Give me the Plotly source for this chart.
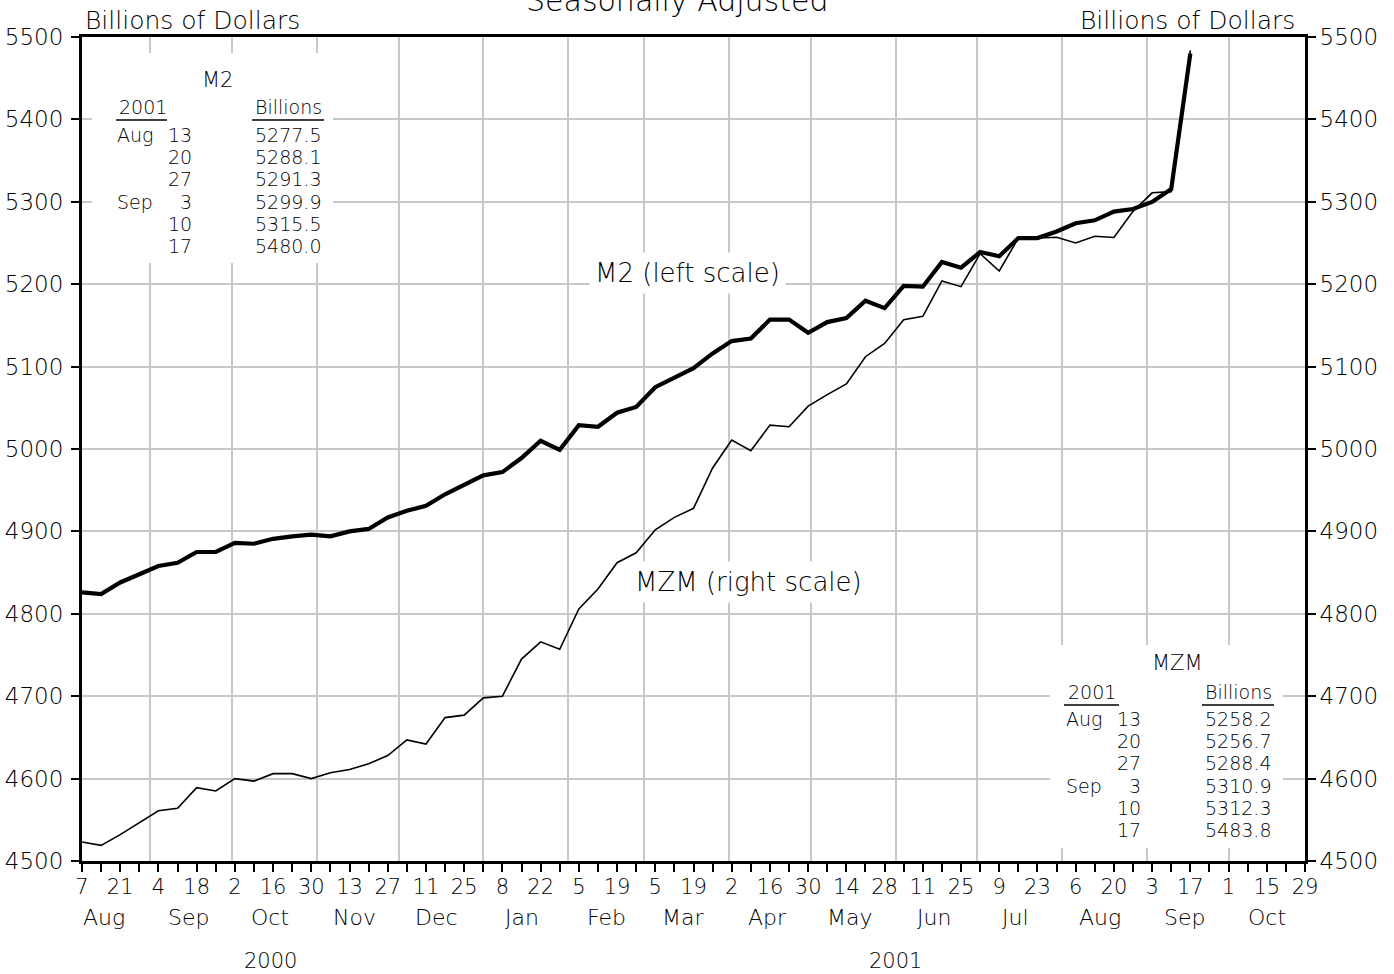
import pandas as pd
import plotly.graph_objects as go

# ---------------- data ----------------
week_start = "2000-08-07"
axis_start = "2000-08-07"
axis_end = "2001-10-29"

m2_values = [
    4826, 4824, 4838, 4848, 4858, 4862, 4875, 4875, 4886, 4885,
    4891, 4894, 4896, 4894, 4900, 4903, 4917, 4925, 4931, 4945,
    4956, 4968, 4972, 4989, 5010, 4999, 5029, 5027, 5044, 5051,
    5075, 5086, 5098, 5116, 5131, 5134, 5157, 5157, 5141, 5154,
    5159, 5180, 5171, 5198, 5197, 5227, 5220, 5239, 5234, 5256,
    5256, 5264, 5274, 5277.5, 5288.1, 5291.3, 5299.9, 5315.5, 5480.0,
]
mzm_values = [
    4523, 4519, 4532, 4547, 4561, 4564, 4589, 4585, 4600, 4597,
    4606, 4606, 4600, 4607, 4611, 4618, 4628, 4647, 4642, 4674,
    4677, 4698, 4700, 4745, 4766, 4757, 4806, 4830, 4862, 4874,
    4902, 4917, 4928, 4977, 5011, 4998, 5029, 5027, 5052, 5066,
    5079, 5112, 5128, 5157, 5161, 5204, 5197, 5237, 5216, 5256,
    5256, 5257, 5250, 5258.2, 5256.7, 5288.4, 5310.9, 5312.3, 5483.8,
]

day_labels = ["7", "21", "4", "18", "2", "16", "30", "13", "27", "11", "25",
              "8", "22", "5", "19", "5", "19", "2", "16", "30", "14", "28",
              "11", "25", "9", "23", "6", "20", "3", "17", "1", "15", "29"]
month_labels = ["Aug", "Sep", "Oct", "Nov", "Dec", "Jan", "Feb", "Mar",
                "Apr", "May", "Jun", "Jul", "Aug", "Sep", "Oct"]
month_label_dates = ["2000-08-15", "2000-09-15", "2000-10-15", "2000-11-15",
                     "2000-12-15", "2001-01-15", "2001-02-15", "2001-03-15",
                     "2001-04-15", "2001-05-15", "2001-06-15", "2001-07-15",
                     "2001-08-15", "2001-09-15", "2001-10-15"]
year_labels = ["2000", "2001"]
year_label_dates = ["2000-10-15", "2001-06-01"]
y_tick_values = list(range(4500, 5501, 100))

table_year = "2001"
table_months = ["Aug", "", "", "Sep", "", ""]
table_days = ["13", "20", "27", "3", "10", "17"]

# ---------------- derived ----------------
dates = pd.date_range(week_start, periods=len(m2_values), freq="7D")
tick_dates = pd.date_range(axis_start, axis_end, freq="7D")
week_tick_text = []
k = 0
for i in range(len(tick_dates)):
    if i % 2 == 0:
        week_tick_text.append(day_labels[k]); k += 1
    else:
        week_tick_text.append("")
month_starts = pd.date_range("2000-09-01", "2001-10-01", freq="MS")

W, H = 1394, 974
L, R, T, B = 82, 89, 37, 113
PW, PH = W - L - R, H - T - B


def px(x):
    return (x - L) / PW


def py(y):
    return (T + PH - y) / PH


FONT = "DejaVu Sans"
WEIGHT = 200
BLACK = "#000000"
GRID = "#c8c8c8"

fig = go.Figure()
fig.add_trace(go.Scatter(x=dates, y=m2_values, mode="lines", name="M2",
                         line=dict(color=BLACK, width=4.2),
                         xaxis="x", yaxis="y", showlegend=False))
fig.add_trace(go.Scatter(x=dates, y=mzm_values, mode="lines", name="MZM",
                         line=dict(color=BLACK, width=1.6),
                         xaxis="x2", yaxis="y2", showlegend=False))

annotations = []
shapes = []


def text(x, y, s, size=19, xanchor="left", bg=None):
    a = dict(x=px(x), y=py(y), xref="paper", yref="paper", text=s,
             showarrow=False, xanchor=xanchor, yanchor="middle",
             font=dict(family=FONT, size=size, color=BLACK, weight=WEIGHT))
    if bg:
        a.update(bgcolor=bg, borderpad=5)
    annotations.append(a)


def table(x0, y0, x1, y1, title, tcx, tcy, ycol, ylabel_y, ulx, ulw,
          daycol, valcol, valw, rows_y, values):
    shapes.append(dict(type="rect", xref="paper", yref="paper",
                       x0=px(x0), x1=px(x1), y0=py(y1), y1=py(y0),
                       fillcolor="white", line=dict(width=0), layer="above"))
    text(tcx, tcy, title, size=21, xanchor="center")
    text(ycol, ylabel_y, table_year)
    text(valcol, ylabel_y, "Billions")
    for (ax0, aw) in ((ulx, ulw), (valcol - 1, valw)):
        shapes.append(dict(type="line", xref="paper", yref="paper",
                           x0=px(ax0), x1=px(ax0 + aw),
                           y0=py(ylabel_y + 13), y1=py(ylabel_y + 13),
                           line=dict(color=BLACK, width=1.5), layer="above"))
    for m, d, v, yy in zip(table_months, table_days, values, rows_y):
        if m:
            text(ycol - 2, yy, m)
        text(daycol, yy, d, xanchor="right")
        text(valcol, yy, f"{v:.1f}")


table(92, 53, 333, 263, "M2", 217, 80, 117, 107, 116, 51, 194, 253, 72,
      [135, 157, 179, 202, 224, 246], m2_values[-6:])
table(1050, 645, 1283, 848, "MZM", 1177, 663, 1066, 692, 1064, 55, 1143, 1203, 72,
      [719, 741, 763, 786, 808, 830], mzm_values[-6:])

text(687, 273, "M2 (left scale)", size=26, xanchor="center", bg="white")
text(748, 582, "MZM (right scale)", size=26, xanchor="center", bg="white")
text(83, 20, "Billions of Dollars", size=25)
text(1297, 20, "Billions of Dollars", size=25, xanchor="right")
text(677, 0, "Seasonally Adjusted", size=30, xanchor="center")

for lab, d in zip(month_labels, month_label_dates):
    annotations.append(dict(x=d, y=py(918), xref="x", yref="paper", text=lab,
                            showarrow=False, xanchor="center", yanchor="middle",
                            font=dict(family=FONT, size=22, color=BLACK, weight=WEIGHT)))
for lab, d in zip(year_labels, year_label_dates):
    annotations.append(dict(x=d, y=py(961), xref="x", yref="paper", text=lab,
                            showarrow=False, xanchor="center", yanchor="middle",
                            font=dict(family=FONT, size=21, color=BLACK, weight=WEIGHT)))

yaxis_common = dict(range=[4500, 5500], tickmode="array", tickvals=y_tick_values,
                    ticks="outside", ticklen=8, tickwidth=1.5, tickcolor=BLACK,
                    showline=True, linewidth=3, linecolor=BLACK,
                    tickfont=dict(family=FONT, size=23, color=BLACK, weight=WEIGHT),
                    zeroline=False, fixedrange=True, automargin=False)

fig.update_layout(
    width=W, height=H,
    margin=dict(l=L, r=R, t=T, b=B, pad=0, autoexpand=False),
    paper_bgcolor="white", plot_bgcolor="white",
    showlegend=False,
    xaxis=dict(type="date", range=[axis_start, axis_end], tickmode="array",
               tickvals=tick_dates, ticktext=week_tick_text,
               ticks="outside", ticklen=8, tickwidth=1.5, tickcolor=BLACK,
               showline=True, linewidth=3, linecolor=BLACK, mirror=True,
               showgrid=False, zeroline=False, automargin=False,
               tickfont=dict(family=FONT, size=21, color=BLACK, weight=WEIGHT),
               tickangle=0, fixedrange=True, ticklabelstandoff=-3),
    xaxis2=dict(type="date", range=[axis_start, axis_end], overlaying="x",
                anchor="y2", tickmode="array", tickvals=month_starts,
                showticklabels=False, ticks="", showline=False, automargin=False,
                showgrid=True, gridcolor=GRID, gridwidth=1.5, zeroline=False,
                fixedrange=True),
    yaxis=dict(side="left", showgrid=True, gridcolor=GRID, gridwidth=1.5,
               ticklabelstandoff=3, **yaxis_common),
    yaxis2=dict(side="right", overlaying="y", anchor="x2", showgrid=False,
                ticklabelstandoff=-1, **yaxis_common),
    annotations=annotations,
    shapes=shapes,
)

fig.write_html("out.html", config={"displayModeBar": False},
               post_script="document.body.style.margin='0';document.body.style.overflow='hidden';")
